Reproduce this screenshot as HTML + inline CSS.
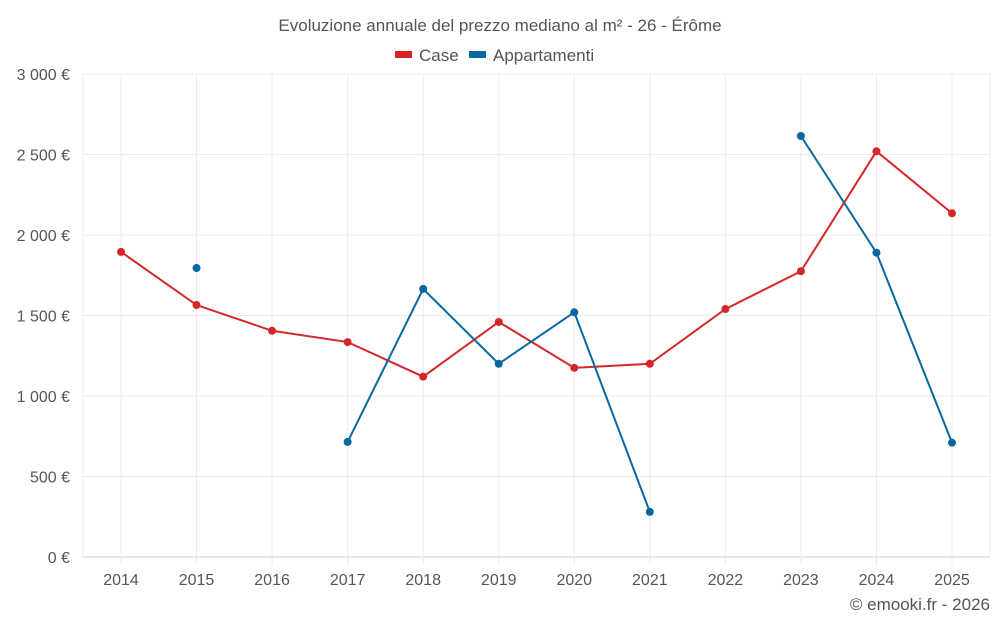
<!DOCTYPE html>
<html><head><meta charset="utf-8"><style>
body{margin:0;background:#fff;font-family:"Liberation Sans",sans-serif}
svg text{font-family:"Liberation Sans",sans-serif;fill:#555}
</style></head><body>
<svg id="c" width="1000" height="625">
<text x="500" y="31" text-anchor="middle" font-size="17">Evoluzione annuale del prezzo mediano al m² - 26 - Érôme</text>
<g>
<rect x="395" y="51" width="17" height="7" fill="#d62728"/>
<text x="419" y="61" font-size="17">Case</text>
<rect x="469" y="51" width="17" height="7" fill="#0868a0"/>
<text x="493" y="61" font-size="17">Appartamenti</text>
</g>
<g id="grid"></g><g id="axes"></g><g id="series"></g>
<text x="990" y="610" text-anchor="end" font-size="17">© emooki.fr - 2026</text>
</svg>
<script>
const years=[2014,2015,2016,2017,2018,2019,2020,2021,2022,2023,2024,2025];
const caseVals=[1895,1565,1405,1335,1120,1460,1175,1200,1540,1775,2520,2135];
const appVals=[null,1795,null,715,1665,1200,1520,280,null,2615,1890,710];
const yTicks=[0,500,1000,1500,2000,2500,3000];
const yLabels=["0 €","500 €","1 000 €","1 500 €","2 000 €","2 500 €","3 000 €"];
const NS="http://www.w3.org/2000/svg";
const X=i=>121+i*(952-121)/11;
const Y=v=>557-v*(557-74)/3000;
function mk(t,a,p){const e=document.createElementNS(NS,t);for(const k in a)e.setAttribute(k,a[k]);document.getElementById(p).appendChild(e);return e;}
const g=document.getElementById('grid');
yTicks.forEach((v,i)=>{
 const l=mk('line',{x1:83,x2:990,y1:Y(v),y2:Y(v),stroke:i==0?'#ccc':'#ececec'},'grid');
 
 
 const t=mk('text',{x:70,y:Y(v)+6,'text-anchor':'end','font-size':16},'axes');t.textContent=yLabels[i];
 
 
});
[83,990].forEach(x=>{const l=mk('line',{x1:x,x2:x,y1:74,y2:557,stroke:'#ececec'},'grid');
 
 });
years.forEach((y,i)=>{
 const l=mk('line',{x1:X(i),x2:X(i),y1:74,y2:565,stroke:'#ececec'},'grid');
 
 
 const t=mk('text',{x:X(i),y:585,'text-anchor':'middle','font-size':16},'axes');t.textContent=y;
 
 
});
function draw(vals,color,name){
 let seg=[];const segs=[];
 vals.forEach((v,i)=>{if(v==null){if(seg.length)segs.push(seg);seg=[];}else seg.push([X(i),Y(v)]);});
 if(seg.length)segs.push(seg);
 segs.forEach(s=>{if(s.length>1){const p=mk('polyline',{points:s.map(q=>q.join(',')).join(' '),fill:'none',stroke:color,'stroke-width':2},'series');
  
  }});
 vals.forEach((v,i)=>{if(v==null)return;const c=mk('circle',{cx:X(i),cy:Y(v),r:4,fill:color},'series');
  
  });
}
draw(caseVals,'#d62728','case');
draw(appVals,'#0868a0','appartamenti');
</script>
</body></html>
